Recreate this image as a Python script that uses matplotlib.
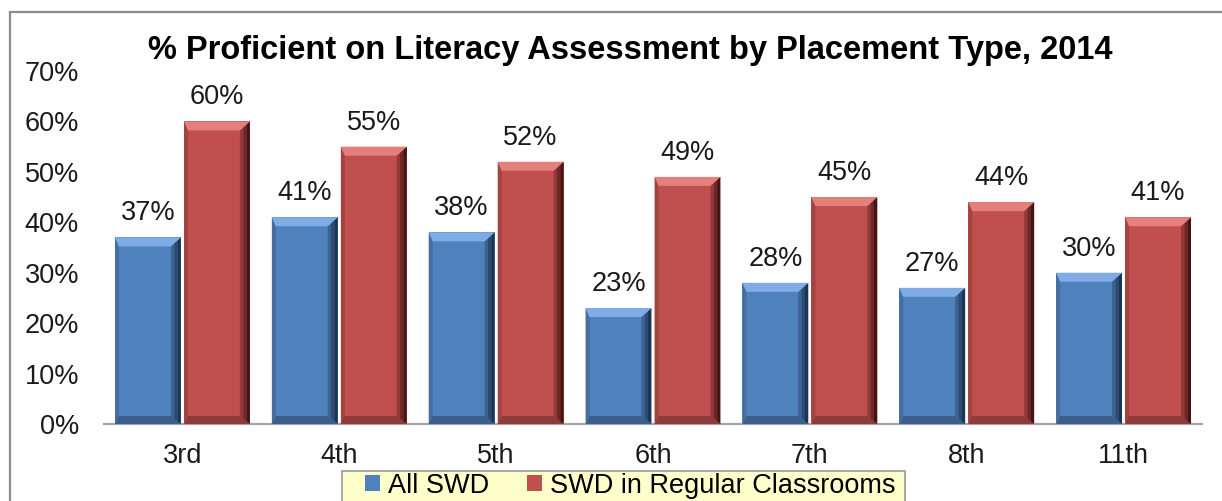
import matplotlib.pyplot as plt
from matplotlib.patches import Polygon, Rectangle

plt.rcParams['font.family'] = ['Liberation Sans', 'DejaVu Sans']

grades = ["3rd", "4th", "5th", "6th", "7th", "8th", "11th"]
all_swd = [37, 41, 38, 23, 28, 27, 30]
regular = [60, 55, 52, 49, 45, 44, 41]
series_names = ["All SWD", "SWD in Regular Classrooms"]
yticks = [0, 10, 20, 30, 40, 50, 60, 70]

W, H = 1222, 501
fig = plt.figure(figsize=(W / 100, H / 100), dpi=100)
ax = fig.add_axes([104 / W, 1 - 424 / H, (1202 - 104) / W, (424 - 71) / H])

# outer chart border (right/bottom run off the image)
fig.patches.append(Rectangle((10 / W, -0.05), 1.2, 1 - 12 / H + 0.05,
                             transform=fig.transFigure, fill=False,
                             edgecolor="#8c8c8c", linewidth=1.6))
# legend box, drawn by hand so the padding matches
fig.patches.append(Rectangle((342 / W, -0.05), (905 - 342) / W, 1 - 471 / H + 0.05,
                             transform=fig.transFigure, facecolor="#ffffcc",
                             edgecolor="#9a9a9a", linewidth=1.2))

x = list(range(len(grades)))
bw = 0.42
gap = 0.02
ax.set_xlim(-0.5, len(grades) - 0.5)
ax.set_ylim(0, 70)

# pixel -> data scale
px_x = len(grades) / (1202 - 104)
px_y = 70 / (424 - 71)

styles = [
    dict(base="#4f81bd", top="#80ace6", left="#466f9f",
         right=["#3b6291", "#2c4b70", "#1e3450"], bottom="#3a5f8b"),
    dict(base="#c0504d", top="#e3807c", left="#a4433f",
         right=["#93393a", "#6a2827", "#451515"], bottom="#8e3b39"),
]


def bevel(x0, w, h, st):
    ty = min(9 * px_y, h / 3)
    by = min(8 * px_y, h / 3)
    lx = 4 * px_x
    rx = 10 * px_x
    x1 = x0 + w
    pieces = [
        ([(x0, 0), (x0 + lx, by), (x0 + lx, h - ty), (x0, h)], st["left"]),
        ([(x0, 0), (x1, 0), (x1 - rx, by), (x0 + lx, by)], st["bottom"]),
    ]
    # right side as a few strips getting darker toward the edge
    n = len(st["right"])
    for k, c in enumerate(st["right"]):
        a = x1 - rx * (n - k) / n
        b = x1 - rx * (n - k - 1) / n
        fa = (n - k) / n
        fb = (n - k - 1) / n
        pieces.append(([(a, by * fa), (b, by * fb), (b, h - ty * fb), (a, h - ty * fa)], c))
    pieces.append(([(x0, h), (x1, h), (x1 - rx, h - ty), (x0 + lx, h - ty)], st["top"]))
    for pts, c in pieces:
        ax.add_patch(Polygon(pts, closed=True, facecolor=c, edgecolor="none", zorder=3))


for i, (vals, st) in enumerate(zip([all_swd, regular], styles)):
    offs = [xi - bw / 2 - gap / 2 if i == 0 else xi + bw / 2 + gap / 2 for xi in x]
    bars = ax.bar(offs, vals, width=bw, color=st["base"], zorder=2,
                  edgecolor="none", label=series_names[i])
    for b, v in zip(bars, vals):
        bevel(b.get_x(), b.get_width(), b.get_height(), st)
        ax.annotate(f"{v}%", (b.get_x() + b.get_width() / 2, v),
                    xytext=(0, 24), textcoords="offset pixels",
                    ha="center", va="center", fontsize=19.5, color="#1a1a1a")

ax.set_xticks(x)
ax.set_xticklabels(grades, fontsize=19.5)
ax.set_yticks(yticks)
ax.set_yticklabels([f"{t}%" for t in yticks], fontsize=19.5)
ax.tick_params(axis="both", length=0, colors="#1a1a1a")
ax.tick_params(axis="x", pad=14)
ax.tick_params(axis="y", pad=18)
for s in ["top", "right", "left"]:
    ax.spines[s].set_visible(False)
ax.spines["bottom"].set_color("#a6a6a6")
ax.spines["bottom"].set_linewidth(1.6)

fig.text(630 / W, 1 - 50 / H, "% Proficient on Literacy Assessment by Placement Type, 2014",
         ha="center", va="center", fontsize=23.5, fontweight="bold")

leg = fig.legend(loc="upper center", bbox_to_anchor=(630 / W, 1 - 470 / H), ncol=2,
                 fontsize=19.5, frameon=False, handlelength=0.55, handleheight=0.55,
                 handletextpad=0.3, columnspacing=1.4, borderpad=0.1, borderaxespad=0)

fig.savefig("out.png", dpi=100)
